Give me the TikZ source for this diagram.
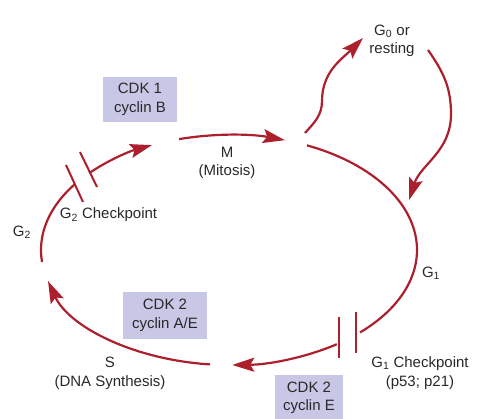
\documentclass[tikz,border=0pt]{standalone}
\usepackage{fontspec}
\newfontfamily\diagfont{Liberation Sans}
\usetikzlibrary{arrows.meta, positioning, calc}
\definecolor{cycred}{RGB}{172,32,45}
\definecolor{boxlav}{RGB}{200,200,230}
\definecolor{txtgray}{RGB}{40,40,40}

\begin{document}
\begin{tikzpicture}[x=1pt, y=1pt,
    font=\diagfont\fontsize{15}{18.5}\selectfont, text=txtgray,
    lbl/.style={align=center, inner sep=0pt},
    cdk/.style={fill=boxlav, align=center, minimum height=45pt, inner xsep=4pt},
    cyc/.style={draw=cycred, line width=2.2pt},
    arrow/.style={cyc, -{Stealth[length=22pt, width=14pt, inset=4pt]}},
    bar/.style={draw=cycred, line width=2pt}]
    \useasboundingbox (0,0) rectangle (500,419);
    \clip (0,0) rectangle (500,419);
    \coordinate (ring) at (229,169);
    % labels
    \node[lbl] (g0) at (392,378) {G\textsubscript{0} or\\resting};
    \node[cdk, minimum width=74pt] (cdk1) at (140,319.5) {CDK 1\\cyclin B};
    \node[lbl] (m) at (227,256) {M\\(Mitosis)};
    \node[lbl] (g2chk) at (108.5,204) {G\textsubscript{2} Checkpoint};
    \node[lbl] (g2) at (22,187) {G\textsubscript{2}};
    \node[cdk, minimum width=84pt, minimum height=47pt] (cdk2ae) at (165,103.5) {CDK 2\\cyclin A/E};
    \node[lbl] (s) at (110,45.5) {S\\(DNA Synthesis)};
    \node[lbl] (g1) at (431,146) {G\textsubscript{1}};
    \node[lbl] (g1chk) at (420,46) {G\textsubscript{1} Checkpoint\\(p53; p21)};
    \node[cdk, minimum width=68pt] (cdk2e) at (309,21) {CDK 2\\cyclin E};
    % the cycle
    \draw[cyc] ($(ring)+(65.5:188pt and 115pt)$) arc[start angle=65.5, end angle=-45.8, x radius=188pt, y radius=115pt];
    \draw[arrow] ($(ring)+(-55:188pt and 115pt)$) arc[start angle=-55, end angle=-89, x radius=188pt, y radius=115pt];
    \draw[arrow] ($(ring)+(-95.8:188pt and 115pt)$) arc[start angle=-95.8, end angle=-164.3, x radius=188pt, y radius=115pt];
    \draw[cyc] ($(ring)+(186:188pt and 115pt)$) arc[start angle=186, end angle=145, x radius=188pt, y radius=115pt];
    \draw[arrow] ($(ring)+(138:188pt and 115pt)$) arc[start angle=138, end angle=114.2, x radius=188pt, y radius=115pt];
    \draw[arrow] ($(ring)+(105.4:188pt and 115pt)$) arc[start angle=105.4, end angle=72.7, x radius=188pt, y radius=115pt];
    % checkpoints
    \draw[bar] (339,102) -- (339,61);
    \draw[bar] (356,107) -- (356,66);
    \draw[bar] (66,254) -- (83,217);
    \draw[bar] (80,267) -- (97,232);
    % G0 loop
    \coordinate (m0) at (305,286);
    \coordinate (g0in) at (363,381);
    \coordinate (g0out) at (428,369);
    \coordinate (g1in) at (409,219);
    \draw[arrow] (m0) to[out=48,in=-90] (322,318) to[out=90,in=-135] (g0in);
    \draw[arrow] (g0out) to[out=-55,in=90] (451,305) to[out=-90,in=72] (g1in);
\end{tikzpicture}
\end{document}
